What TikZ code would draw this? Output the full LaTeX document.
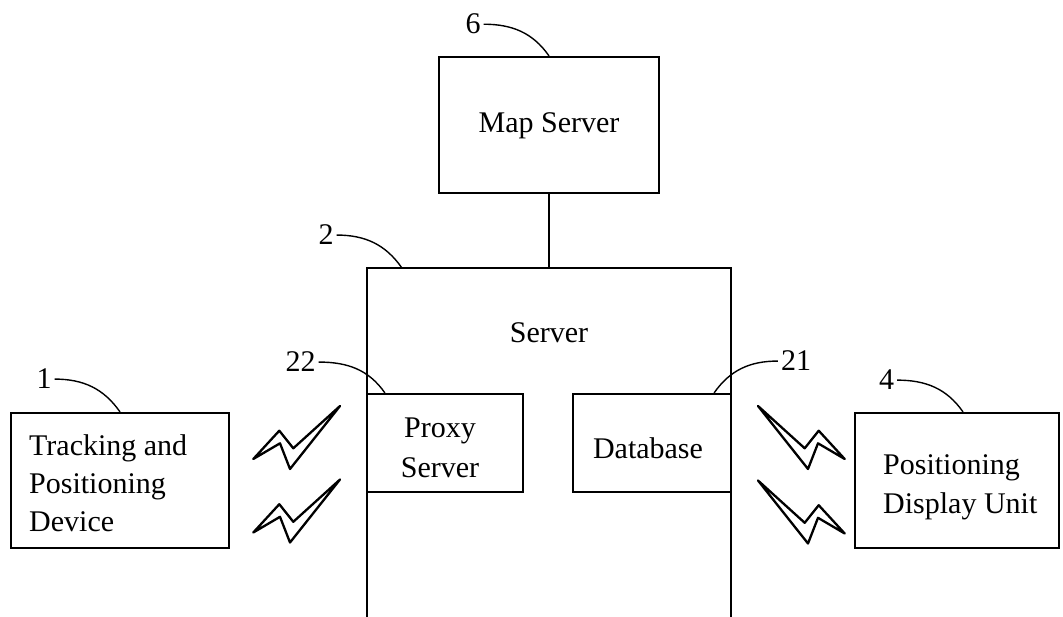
\documentclass[tikz,border=0pt]{standalone}
\usepackage{fontspec}
\setmainfont{Liberation Serif}
\begin{document}
\begin{tikzpicture}[x=1pt, y=1pt]
\tikzset{
  frame/.style={draw, line width=2.2pt, inner sep=0pt},
  hollow/.style={inner sep=0pt},
  words/.style={font=\fontsize{30}{38}\selectfont, inner sep=0pt},
  tag/.style={font=\fontsize{30}{36}\selectfont, inner sep=3pt, anchor=base},
  leader/.style={line width=1.4pt},
  wire/.style={line width=2.2pt},
  bolt/.pic={\draw[line width=2.3pt, line join=round]
      (0,0) -- (26,28.3) -- (40,10.7) -- (86.7,53) -- (36.7,-10) -- (26.7,15.7) -- cycle;}
}
\fill[white] (0,0) rectangle (1063,-617);
\useasboundingbox (0,0) rectangle (1063,-617);

% boxes
\node[frame, minimum width=220pt, minimum height=136pt] (map) at (549,-125) {};
\node[hollow, minimum width=364pt, minimum height=352pt] (srv) at (549,-444) {};
\node[frame, minimum width=156pt, minimum height=98pt] (proxy) at (445,-443) {};
\node[frame, minimum width=158pt, minimum height=98pt] (db) at (652,-443) {};
\node[frame, minimum width=218pt, minimum height=135pt] (track) at (120,-480.5) {};
\node[frame, minimum width=204pt, minimum height=135pt] (pos) at (957,-480.5) {};

% server outline, open at the bottom
\draw[wire] (srv.south west) -- (srv.north west) -- (srv.north east) -- (srv.south east);
% map server link
\draw[wire] (map.south) -- (srv.north);

% box texts
\node[words, anchor=base] (mapT) at (549,-133) {Map Server};
\node[words, anchor=base] (srvT) at (549,-343) {Server};
\node[words, anchor=base] (proxyA) at (440,-438) {Proxy};
\node[words, anchor=base] (proxyB) at (440,-477) {Server};
\node[words, anchor=base] (dbT) at (648,-458) {Database};
\node[words, anchor=base west] (trackA) at (29,-455) {Tracking and};
\node[words, anchor=base west] (trackB) at (29,-493) {Positioning};
\node[words, anchor=base west] (trackC) at (29,-531) {Device};
\node[words, anchor=base west] (posA) at (883,-475) {Positioning};
\node[words, anchor=base west] (posB) at (883,-513) {Display Unit};

% reference numerals
\node[tag] (n6) at (473,-34) {6};
\node[tag] (n2) at (326,-245) {2};
\node[tag] (n22) at (300.5,-372) {22};
\node[tag] (n21) at (796,-371) {21};
\node[tag] (n1) at (44,-389) {1};
\node[tag] (n4) at (886.5,-390) {4};

% leader lines
\draw[leader] (n6.east) to[out=0, in=125] (map.north);
\draw[leader] (n2.east) to[out=0, in=125] ([xshift=35pt]srv.north west);
\draw[leader] (n22.east) to[out=0, in=125] ([xshift=19pt]proxy.north west);
\draw[leader] (n21.west) to[out=180, in=55] ([xshift=-18pt]db.north east);
\draw[leader] (n1.east) to[out=0, in=125] (track.north);
\draw[leader] (n4.east) to[out=0, in=125] ([xshift=6pt]pos.north);

% wireless links
\pic at (253.3,-459) {bolt};
\pic at (253.3,-532.5) {bolt};
\pic[xscale=-1] at (844.7,-459) {bolt};
\pic[xscale=-1] at (844.7,-533.5) {bolt};
\end{tikzpicture}
\end{document}
